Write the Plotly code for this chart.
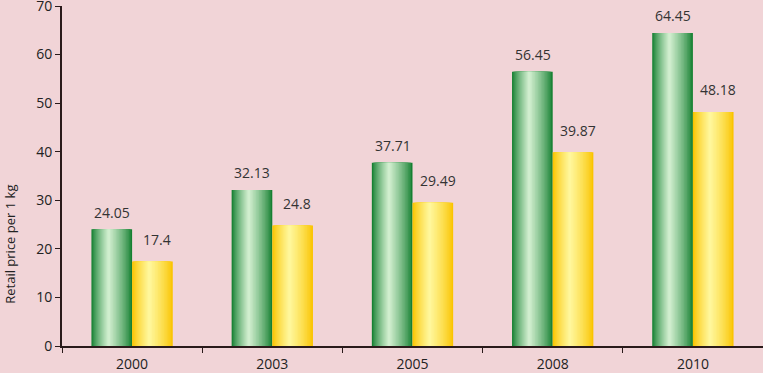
import plotly.graph_objects as go

years = ["2000", "2003", "2005", "2008", "2010"]
series_a = [24.05, 32.13, 37.71, 56.45, 64.45]
series_b = [17.4, 24.8, 29.49, 39.87, 48.18]
y_ticks = [0, 10, 20, 30, 40, 50, 60, 70]

BAR_W = 0.29
N = 16
PEAK = 0.42

def mix(c1, c2, f):
    return "rgb(%d,%d,%d)" % tuple(round(a + (b - a) * f) for a, b in zip(c1, c2))

green_dark, green_light = (22, 128, 50), (208, 238, 206)
yel_dark, yel_light = (250, 196, 0), (255, 247, 155)

fig = go.Figure()
for series, base_off, dark, light in [(series_a, -BAR_W, green_dark, green_light),
                                      (series_b, 0.0, yel_dark, yel_light)]:
    for k in range(N):
        s = k / N
        left = base_off + PEAK * BAR_W * s
        right = base_off + BAR_W - (1 - PEAK) * BAR_W * s
        f = (k / (N - 1)) ** 0.8
        fig.add_trace(go.Bar(
            x=years, y=series, width=max(right - left, 0.004), offset=left,
            marker=dict(color=mix(dark, light, f), line=dict(width=0)),
            hoverinfo="skip", showlegend=False))

for idx, v in enumerate(series_a):
    fig.add_annotation(x=idx, y=v, text=str(v), showarrow=False, xshift=-20, yshift=17,
                       font=dict(size=14, color="#333333"))
for idx, v in enumerate(series_b):
    fig.add_annotation(x=idx, y=v, text=str(v), showarrow=False, xshift=25, yshift=22,
                       font=dict(size=14, color="#333333"))

fig.add_annotation(xref="paper", yref="paper", x=-0.0745, y=0.3, text="Retail price per 1 kg",
                   textangle=-90, showarrow=False, xanchor="center", yanchor="middle",
                   font=dict(size=13, color="#222222"))

fig.update_layout(
    width=763, height=373, barmode="overlay",
    paper_bgcolor="#f1d4d7", plot_bgcolor="#f1d4d7",
    margin=dict(l=62, r=0, t=6, b=27, autoexpand=False),
    font=dict(family="Open Sans, Liberation Sans, sans-serif", size=14, color="#222222"),
    xaxis=dict(type="category", range=[-0.5, 4.5], showline=True, linecolor="#2a1a1a", linewidth=2,
               ticks="outside", tickson="boundaries", ticklen=5, tickcolor="#2a1a1a",
               showgrid=False, tickfont=dict(size=14), tickangle=0, automargin=False,
               ticklabelstandoff=4, ticklabeloverflow="allow"),
    yaxis=dict(range=[0, 70], tickvals=y_ticks, showline=True, linecolor="#2a1a1a",
               linewidth=2, ticks="outside", ticklen=5, tickcolor="#2a1a1a",
               showgrid=False, zeroline=False, tickfont=dict(size=14), automargin=False,
               ticklabeloverflow="allow"),
)
fig.write_html("out.html", config={"displayModeBar": False},
               post_script="document.body.style.margin='0';document.body.style.padding='0';"
                           "document.body.style.background='#f1d4d7';")
